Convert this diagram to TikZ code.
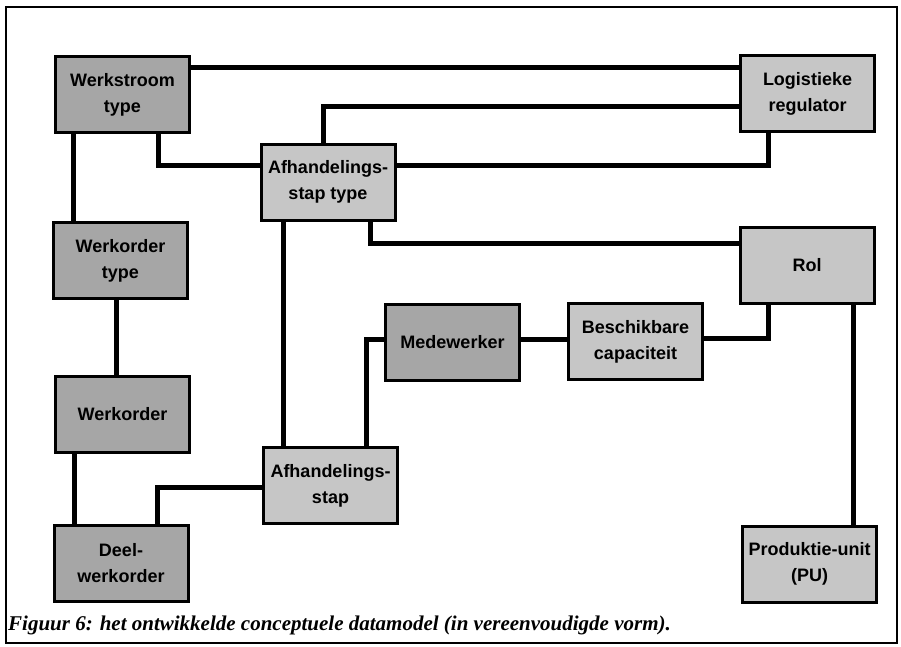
\documentclass[tikz,border=0pt]{standalone}
\usepackage{fontspec}
\setmainfont{Liberation Sans}
\newfontfamily\capfont{Liberation Serif}
\usetikzlibrary{calc}
\definecolor{shadedark}{HTML}{A6A6A6}
\definecolor{shadelight}{HTML}{C6C6C6}
\tikzset{
  entity/.style={draw=black, line width=3pt, minimum width=134pt, minimum height=76pt,
    inner sep=2pt, align=center, font=\bfseries\fontsize{18}{26}\selectfont},
  darkent/.style={entity, fill=shadedark},
  lightent/.style={entity, fill=shadelight},
  conn/.style={line width=5pt, line cap=butt, line join=miter},
  frame/.style={line width=2pt}
}
\begin{document}
\begin{tikzpicture}[x=1pt, y=-1pt]
\useasboundingbox (0,0) rectangle (901,646);
\draw[frame] (6,7) rectangle (897,643);

% entities
\node[darkent]  (ws)  at (122.5,94.5) {Werkstroom\\type};
\node[lightent] (lr)  at (807.5,93.5) {Logistieke\\regulator};
\node[lightent] (ast) at (328,182)    {Afhandelings-\\stap type};
\node[darkent]  (wot) at (120.5,260.5) {Werkorder\\type};
\node[darkent]  (wo)  at (122.5,414.5) {Werkorder};
\node[darkent]  (dwo) at (121,563.5)  {Deel-\\werkorder};
\node[lightent] (as)  at (330.5,485.5) {Afhandelings-\\stap};
\node[darkent]  (mw)  at (452.5,342)  {Medewerker};
\node[lightent] (bc)  at (635.5,341.5) {Beschikbare\\capaciteit};
\node[lightent] (rol) at (807,265)    {Rol};
\node[lightent] (pu)  at (809.5,564)  {Produktie-unit\\(PU)};

% relations
\draw[conn] (ws.east |- 0,67) -- (lr.west |- 0,67);
\draw[conn] (ws.south -| 158,0) |- (ast.west |- 0,165);
\draw[conn] (ws.south -| 73,0) -- (wot.north -| 73,0);
\draw[conn] (ast.north -| 323,0) |- (lr.west |- 0,106);
\draw[conn] (ast.east |- 0,165) -| (lr.south -| 768,0);
\draw[conn] (ast.south -| 370,0) |- (rol.west |- 0,243);
\draw[conn] (ast.south -| 283,0) -- (as.north -| 283,0);
\draw[conn] (as.north -| 366,0) |- (mw.west |- 0,339);
\draw[conn] (mw.east |- 0,339) -- (bc.west |- 0,339);
\draw[conn] (bc.east |- 0,338) -| (rol.south -| 768,0);
\draw[conn] (rol.south -| 853,0) -- (pu.north -| 853,0);
\draw[conn] (wot.south -| 116,0) -- (wo.north -| 116,0);
\draw[conn] (wo.south -| 74,0) -- (dwo.north -| 74,0);
\draw[conn] (dwo.north -| 157,0) |- (as.west |- 0,487);

% caption
\node[anchor=base west, inner sep=0pt, font=\capfont\bfseries\itshape\fontsize{21}{24}\selectfont]
  (cap) at (8,630) {Figuur 6: het ontwikkelde conceptuele datamodel (in vereenvoudigde vorm).};
\end{tikzpicture}
\end{document}
